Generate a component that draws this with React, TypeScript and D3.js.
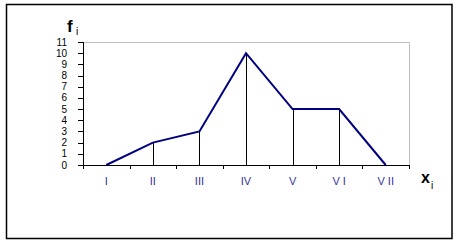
import React from "react";
import * as d3 from "d3";

const categories = ["I", "II", "III", "IV", "V", "V I", "V II"];
const values = [0, 2, 3, 10, 5, 5, 0];
const yTicks = [0, 1, 2, 3, 4, 5, 6, 7, 8, 9, 10, 11];

export default function App() {
  const W = 459, H = 242;
  const left = 83, right = 409, top = 42, bottom = 165;
  const x = d3.scaleBand<string>().domain(categories).range([left, right]).paddingInner(0).paddingOuter(0);
  const y = d3.scaleLinear().domain([0, 11]).range([bottom, top]);
  const cx = (c: string) => (x(c) as number) + x.bandwidth() / 2;
  const pts: [number, number][] = categories.map((c, i) => [cx(c), y(values[i])]);
  const line = d3.line<[number, number]>().x(d => d[0]).y(d => d[1]);
  const boundaries = categories.map(c => x(c) as number).concat([right]);
  const font = "Liberation Sans, Arial, sans-serif";
  return (
    <svg width={W} height={H} style={{ position: "absolute", left: 0, top: 0, background: "#fff" }} fontFamily={font}>
      <rect x={0} y={0} width={W} height={H} fill="#fff" />
      <rect x={6.5} y={4.5} width={445.5} height={234} fill="none" stroke="#000" strokeWidth={1.5} />
      {/* plot frame */}
      <line x1={left} y1={top + 0.5} x2={right + 0.5} y2={top + 0.5} stroke="#c0c0c0" />
      <line x1={right + 0.5} y1={top} x2={right + 0.5} y2={bottom} stroke="#c0c0c0" />
      {/* drop lines */}
      {pts.map((p, i) => values[i] > 0 ? (
        <line key={"d" + i} x1={Math.round(p[0]) + 0.5} y1={p[1]} x2={Math.round(p[0]) + 0.5} y2={bottom} stroke="#000" strokeWidth={1} />
      ) : null)}
      {/* axes */}
      <line x1={left + 0.5} y1={top} x2={left + 0.5} y2={bottom + 0.5} stroke="#000" />
      <line x1={left} y1={bottom + 0.5} x2={right + 1} y2={bottom + 0.5} stroke="#000" />
      {yTicks.map(t => (
        <g key={"y" + t}>
          <line x1={left - 5} x2={left} y1={Math.round(y(t)) + 0.5} y2={Math.round(y(t)) + 0.5} stroke="#000" />
          <text x={67} y={y(t)} dy="0.35em" textAnchor="end" fontSize={10} fill="#000">{t}</text>
        </g>
      ))}
      {boundaries.map((b, i) => (
        <line key={"xt" + i} x1={Math.round(b) + 0.5} x2={Math.round(b) + 0.5} y1={bottom} y2={bottom + 4} stroke="#000" />
      ))}
      {categories.map(c => (
        <text key={"xl" + c} x={cx(c)} y={185} textAnchor="middle" fontSize={11} fill="#333399">{c}</text>
      ))}
      <path d={line(pts) as string} fill="none" stroke="#000080" strokeWidth={2} />
      <text x={67} y={32} fontSize={17} fontWeight="bold" fill="#000">f</text>
      <text x={76} y={34.5} fontSize={10} fill="#000">i</text>
      <text x={421} y={183} fontSize={16} fontWeight="bold" fill="#000">x</text>
      <text x={431} y={189} fontSize={10} fill="#000">i</text>
    </svg>
  );
}
